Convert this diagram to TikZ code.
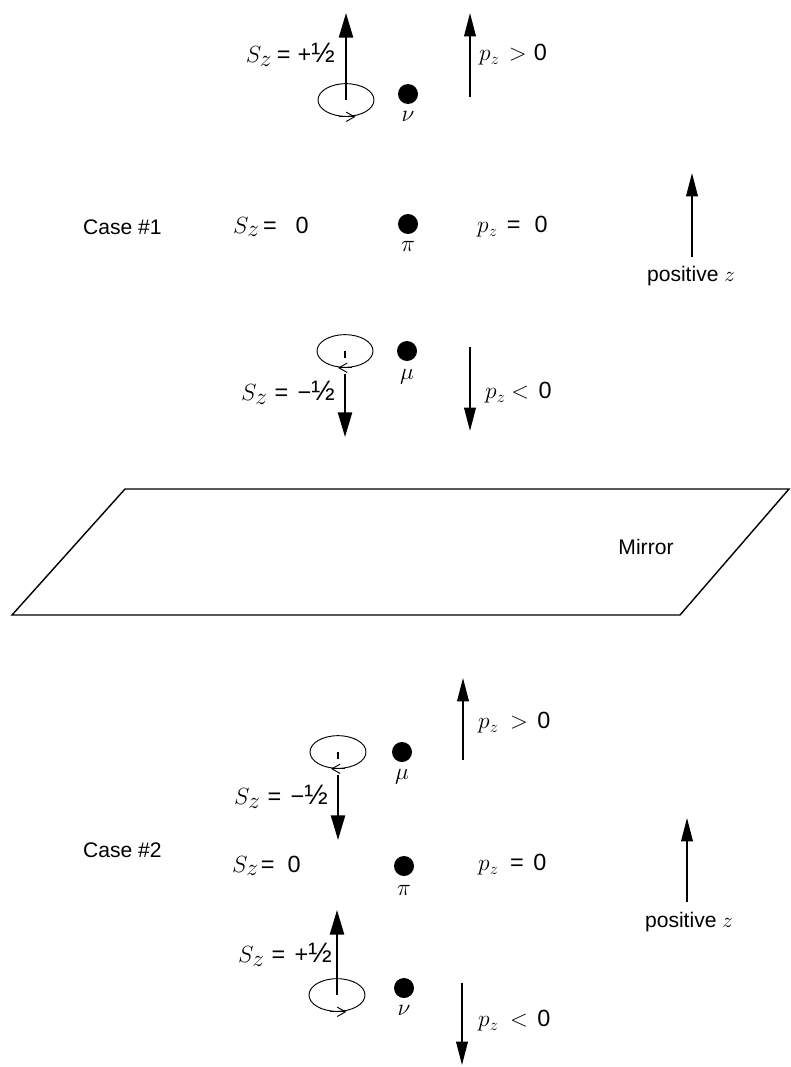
\documentclass[tikz,border=0pt]{standalone}
\usepackage{fix-cm}
\usepackage{fontspec}
\setmainfont{Liberation Sans}
\usetikzlibrary{arrows.meta,shapes.geometric}

\newcommand{\half}{{\fontsize{24}{24}\selectfont ½}}
\newcommand{\Sz}{$S_{\textstyle z}$}

\begin{document}
\begin{tikzpicture}[x=0.03cm, y=-0.03cm, font=\fontsize{18}{22}\selectfont,
  dot/.style={circle, fill, minimum size=0.6cm, inner sep=0pt},
  orbit/.style={draw, ellipse, line width=0.8pt, minimum width=1.68cm, minimum height=0.98cm, inner sep=0pt},
  spin/.style={line width=1.8pt, -{Triangle[length=21pt,width=12pt]}},
  mom/.style={line width=1.3pt, -{Triangle[length=20pt,width=10pt]}},
  turn/.style={line width=0.8pt, -{Straight Barb[length=7pt,width=8pt]}},
  tick/.style={line width=1pt},
  qty/.style={inner sep=0pt, font=\fontsize{20}{24}\selectfont}]
\useasboundingbox (0,0) rectangle (791,1067);

% Case 1: nu going up
\node[orbit] (s1) at (346,100) {};
\coordinate (s1tip) at (346,13);
\draw[spin] (s1.center) -- (s1tip);
\draw[turn] ([xshift=-6pt]s1.south) -- ([xshift=8pt]s1.south);
\node[qty, anchor=east] (s1lab) at (335,55) {\Sz\hspace{4pt}=\hspace{6pt}+\half};
\node[dot] (nu1) at (408,94) {};
\node[qty] (nu1lab) at (408,116) {$\nu$};
\coordinate (p1a) at (470,97);
\coordinate (p1b) at (470,13);
\draw[mom] (p1a) -- (p1b);
\node[qty, anchor=west] (p1lab) at (479,55) {$p_z$\hspace{8pt}$>$\hspace{6pt}0};

% Case 1: pion at rest
\node[anchor=west] (case1) at (79,227) {Case \#1};
\node[qty, anchor=west] (s0lab1) at (233,227) {\Sz\hspace{3pt}=\hspace{16pt}0};
\node[dot] (pi1) at (408,224) {};
\node[qty] (pi1lab) at (408,246) {$\pi$};
\node[qty, anchor=west] (p0lab1) at (477,227) {$p_z$\hspace{8pt}=\hspace{12pt}0};
\coordinate (z1a) at (692,257);
\coordinate (z1b) at (692,173);
\draw[mom] (z1a) -- (z1b);
\node (z1lab) at (691,276) {positive $z$};

% Case 1: mu going down
\node[orbit] (s2) at (345,351) {};
\draw[tick] (s2.center) -- ++(0,7);
\draw[turn] ([xshift=6pt]s2.south) -- ([xshift=-6pt]s2.south);
\coordinate (s2tip) at (345,437);
\draw[spin] ([yshift=-5pt]s2.south) -- (s2tip);
\node[qty, anchor=east] (s2lab) at (335,393) {\Sz\hspace{6pt}=\hspace{8pt}−\half};
\node[dot] (mu1) at (407,351) {};
\node[qty] (mu1lab) at (407,377) {$\mu$};
\coordinate (p2a) at (470,347);
\coordinate (p2b) at (470,431);
\draw[mom] (p2a) -- (p2b);
\node[qty, anchor=west] (p2lab) at (485,393) {$p_z$\hspace{5pt}$<$\hspace{8pt}0};

% mirror plane
\coordinate (m1) at (125,489);
\coordinate (m2) at (789,489);
\coordinate (m3) at (680,615);
\coordinate (m4) at (12,615);
\draw[line width=1.2pt] (m1) -- (m2) -- (m3) -- (m4) -- cycle;
\node (mirror) at (646,547) {Mirror};

% Case 2: mu going up
\coordinate (p3a) at (463,760);
\coordinate (p3b) at (463,678);
\draw[mom] (p3a) -- (p3b);
\node[qty, anchor=west] (p3lab) at (478,723) {$p_z$\hspace{10pt}$>$\hspace{8pt}0};
\node[orbit] (s3) at (338,752) {};
\draw[tick] (s3.center) -- ++(0,7);
\draw[turn] ([xshift=6pt]s3.south) -- ([xshift=-6pt]s3.south);
\coordinate (s3tip) at (338,840);
\draw[spin] ([yshift=-5pt]s3.south) -- (s3tip);
\node[qty, anchor=east] (s3lab) at (328,797) {\Sz\hspace{6pt}=\hspace{8pt}−\half};
\node[dot] (mu2) at (402,752) {};
\node[qty] (mu2lab) at (402,777) {$\mu$};

% Case 2: pion at rest
\node[anchor=west] (case2) at (79,850) {Case \#2};
\node[qty, anchor=west] (s0lab2) at (232,866) {\Sz\hspace{2pt}=\hspace{11pt}0};
\node[dot] (pi2) at (404,866) {};
\node[qty] (pi2lab) at (404,890) {$\pi$};
\node[qty, anchor=west] (p0lab2) at (478,865) {$p_z$\hspace{10pt}=\hspace{8pt}0};
\coordinate (z2a) at (687,902);
\coordinate (z2b) at (687,818);
\draw[mom] (z2a) -- (z2b);
\node (z2lab) at (689,922) {positive $z$};

% Case 2: nu going down
\node[orbit] (s4) at (337,995) {};
\coordinate (s4tip) at (337,910);
\draw[spin] (s4.center) -- (s4tip);
\draw[turn] ([xshift=-6pt]s4.south) -- ([xshift=8pt]s4.south);
\node[qty, anchor=east] (s4lab) at (332,955) {\Sz\hspace{6pt}=\hspace{8pt}+\half};
\node[dot] (nu2) at (404,988) {};
\node[qty] (nu2lab) at (404,1010) {$\nu$};
\coordinate (p4a) at (462,983);
\coordinate (p4b) at (462,1065);
\draw[mom] (p4a) -- (p4b);
\node[qty, anchor=west] (p4lab) at (478,1021) {$p_z$\hspace{10pt}$<$\hspace{8pt}0};
\end{tikzpicture}
\end{document}
